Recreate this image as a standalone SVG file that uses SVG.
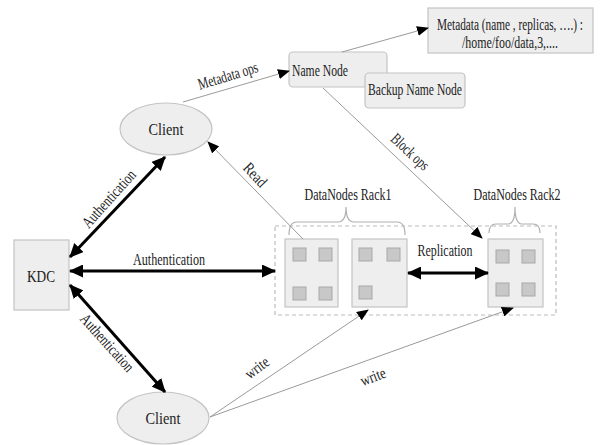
<svg xmlns="http://www.w3.org/2000/svg" width="609" height="445" viewBox="0 0 609 445">
<style>
text{font-family:"Liberation Serif","DejaVu Serif",serif;font-size:16px;fill:#222;}
.c{text-anchor:middle;}
.box{fill:#eeeeee;stroke:#c4c4c4;stroke-width:1.2;}
.sq{fill:#c8c8c8;stroke:#a8a8a8;stroke-width:1;}
.thick{stroke:#000;stroke-width:3;fill:none;}
.thin{stroke:#9a9a9a;stroke-width:1;fill:none;}
.brace{stroke:#b0b0b0;stroke-width:1.2;fill:none;}
</style>
<defs>
<marker id="ah" viewBox="0 0 14 13" markerWidth="14" markerHeight="13" refX="13" refY="6.5" orient="auto-start-reverse" markerUnits="userSpaceOnUse"><path d="M0,0 L14,6.5 L0,13 z" fill="#000"/></marker>
<marker id="as" viewBox="0 0 12 10" markerWidth="12" markerHeight="10" refX="11" refY="5" orient="auto" markerUnits="userSpaceOnUse"><path d="M0,0 L12,5 L0,10 z" fill="#000"/></marker>
</defs>
<rect width="609" height="445" fill="#fff"/>

<g id="metadata">
<rect class="box" x="428" y="8" width="165" height="45"/>
<text class="c" x="510" y="30" textLength="146" lengthAdjust="spacingAndGlyphs">Metadata (name , replicas, ….) :</text>
<text class="c" x="510" y="48" textLength="96" lengthAdjust="spacingAndGlyphs">/home/foo/data,3,....</text>
</g>
<g id="namenode">
<rect class="box" x="289" y="52" width="98" height="35" rx="4"/>
<text x="292" y="76" textLength="56" lengthAdjust="spacingAndGlyphs">Name Node</text>
</g>
<g id="backupnamenode">
<rect class="box" x="365" y="73" width="100" height="35" rx="4"/>
<text class="c" x="415" y="95" textLength="94" lengthAdjust="spacingAndGlyphs">Backup Name Node</text>
</g>
<g id="client-top">
<ellipse class="box" cx="166" cy="129" rx="46" ry="26"/>
<text class="c" x="166" y="135" textLength="35" lengthAdjust="spacingAndGlyphs">Client</text>
</g>
<g id="client-bottom">
<ellipse class="box" cx="163" cy="418" rx="46" ry="26"/>
<text class="c" x="163" y="424" textLength="35" lengthAdjust="spacingAndGlyphs">Client</text>
</g>
<g id="kdc">
<rect class="box" x="14" y="240" width="55" height="70"/>
<text class="c" x="41" y="282" textLength="28" lengthAdjust="spacingAndGlyphs">KDC</text>
</g>
<g id="racks">
<rect x="275" y="226" width="281" height="89" fill="none" stroke="#bbbbbb" stroke-width="1.2" stroke-dasharray="4,3"/>
</g>
<g id="rack1">
<path class="brace" d="M289,235 Q289,222 297,222 L338,222 Q346,222 346,207 Q346,222 354,222 L397,222 Q405,222 405,235"/>
<text class="c" x="348" y="200" textLength="87" lengthAdjust="spacingAndGlyphs">DataNodes Rack1</text>
<g id="datanode1">
<rect class="box" x="285" y="239" width="53" height="68"/>
<rect class="sq" x="293" y="248" width="13" height="13"/>
<rect class="sq" x="319" y="248" width="13" height="13"/>
<rect class="sq" x="293" y="287" width="13" height="13"/>
<rect class="sq" x="319" y="287" width="13" height="13"/>
</g>
<g id="datanode2">
<rect class="box" x="352" y="239" width="55" height="68"/>
<rect class="sq" x="359" y="248" width="13" height="13"/>
<rect class="sq" x="387" y="248" width="13" height="13"/>
<rect class="sq" x="359" y="286" width="13" height="13"/>
</g>
</g>
<g id="rack2">
<path class="brace" d="M489,233 Q489,224 496,224 L508,224 Q515,224 515,207 Q515,224 522,224 L533,224 Q540,224 540,233"/>
<text class="c" x="517" y="200" textLength="87" lengthAdjust="spacingAndGlyphs">DataNodes Rack2</text>
<g id="datanode3">
<rect class="box" x="488" y="239" width="55" height="68"/>
<rect class="sq" x="496" y="250" width="13" height="13"/>
<rect class="sq" x="522" y="250" width="13" height="13"/>
<rect class="sq" x="496" y="283" width="13" height="13"/>
<rect class="sq" x="522" y="283" width="13" height="13"/>
</g>
</g>

<g id="connectors">
<line class="thick" x1="70" y1="257" x2="165" y2="157" marker-start="url(#ah)" marker-end="url(#ah)"/>
<line class="thick" x1="70" y1="271" x2="275" y2="271" marker-start="url(#ah)" marker-end="url(#ah)"/>
<line class="thick" x1="70" y1="285" x2="165" y2="392" marker-start="url(#ah)" marker-end="url(#ah)"/>
<line class="thick" x1="408" y1="273" x2="488" y2="273" marker-start="url(#ah)" marker-end="url(#ah)"/>
<line class="thin" x1="183" y1="102" x2="289" y2="71" marker-end="url(#as)"/>
<line class="thin" x1="342" y1="52" x2="428" y2="28" marker-end="url(#as)"/>
<line class="thin" x1="323" y1="88" x2="482" y2="238" marker-end="url(#as)"/>
<line class="thin" x1="303" y1="239" x2="208" y2="142" marker-end="url(#as)"/>
<line class="thin" x1="210" y1="417" x2="368" y2="310" marker-end="url(#as)"/>
<line class="thin" x1="210" y1="417" x2="513" y2="308" marker-end="url(#as)"/>
<text transform="translate(109,199) rotate(-48)" class="c" y="5" textLength="72" lengthAdjust="spacingAndGlyphs">Authentication</text>
<text class="c" x="169" y="265" textLength="72" lengthAdjust="spacingAndGlyphs">Authentication</text>
<text transform="translate(107,343) rotate(48)" class="c" y="5" textLength="72" lengthAdjust="spacingAndGlyphs">Authentication</text>
<text transform="translate(228,76) rotate(-17)" class="c" y="5" textLength="62" lengthAdjust="spacingAndGlyphs">Metadata ops</text>
<text transform="translate(255,175) rotate(47)" class="c" y="5" textLength="27" lengthAdjust="spacingAndGlyphs">Read</text>
<text transform="translate(410,152) rotate(43)" class="c" y="5" textLength="46" lengthAdjust="spacingAndGlyphs">Block ops</text>
<text class="c" x="445" y="256" textLength="55" lengthAdjust="spacingAndGlyphs">Replication</text>
<text transform="translate(257,368) rotate(-37)" class="c" y="5" textLength="26" lengthAdjust="spacingAndGlyphs">write</text>
<text transform="translate(373,377) rotate(-21)" class="c" y="5" textLength="26" lengthAdjust="spacingAndGlyphs">write</text>
</g>
</svg>
